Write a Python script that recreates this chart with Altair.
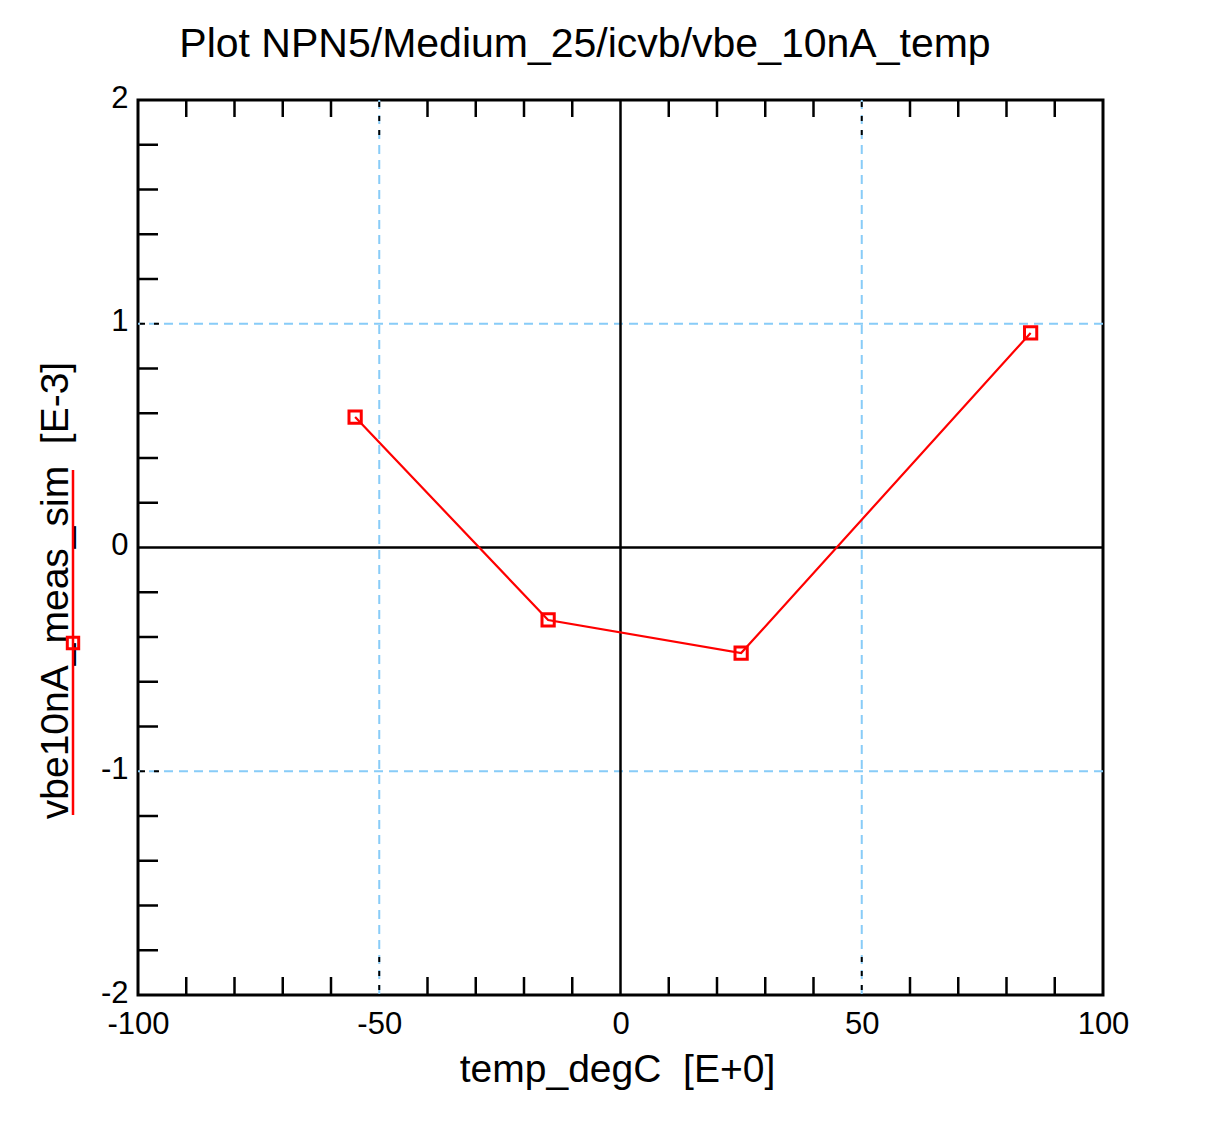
import altair as alt
import pandas as pd

# ---- data ----
temp_degC = [-55, -15, 25, 85]
vbe10nA_meas_sim = [0.583, -0.324, -0.472, 0.959]   # [E-3]

x_labels = [-100, -50, 0, 50, 100]
y_labels = [-2, -1, 0, 1, 2]
x_minor = [-90, -80, -70, -60, -40, -30, -20, -10, 10, 20, 30, 40, 60, 70, 80, 90]
x_major = [-50, 50]
y_minor = [-1.8, -1.6, -1.4, -1.2, -0.8, -0.6, -0.4, -0.2,
           0.2, 0.4, 0.6, 0.8, 1.2, 1.4, 1.6, 1.8]
y_major = [-1, 1]
zero = [0]

title_text = ["Plot NPN5/Medium_25/icvb/vbe_10nA_temp"]
x_title = "temp_degC\u00a0 [E+0]"
y_title = "vbe10nA_meas_sim\u00a0 [E-3]"
series_name = ["vbe10nA_meas_sim"]

FONT = "Liberation Sans"
RED = "#ff0000"
BLUE = "#88ccf8"
W, H = 965, 895

xs = alt.Scale(domain=[-100, 100], nice=False, zero=False)
ys = alt.Scale(domain=[-2, 2], nice=False, zero=False)

df = pd.DataFrame({"temp": temp_degC, "vbe": vbe10nA_meas_sim})
d_xminor = pd.DataFrame({"v": x_minor})
d_xmajor = pd.DataFrame({"v": x_major})
d_yminor = pd.DataFrame({"v": y_minor})
d_ymajor = pd.DataFrame({"v": y_major})
d_zero = pd.DataFrame({"v": zero})
d_series = pd.DataFrame({"name": series_name})
d_title = pd.DataFrame({"t": title_text})

x_axis = alt.Axis(values=x_labels, labelExpr="'' + datum.value", ticks=False,
                  domain=False, grid=False, labelFont=FONT, labelFontSize=31,
                  labelColor="black", labelPadding=14, labelFlush=False,
                  title=x_title, titleFont=FONT, titleFontSize=39,
                  titleFontWeight="normal", titleColor="black",
                  titleX=479, titleY=86, titleBaseline="alphabetic",
                  titleAlign="center", titleAnchor="middle")
y_axis = alt.Axis(values=y_labels, labelExpr="'' + datum.value", ticks=False,
                  domain=False, grid=False, labelFont=FONT, labelFontSize=31,
                  labelColor="black", labelPadding=10, labelFlush=False,
                  labelOffset=-2, labelBaseline="middle",
                  title=y_title, titleFont=FONT, titleFontSize=39,
                  titleFontWeight="normal", titleColor="black",
                  titleX=-71, titleY=490, titleAngle=-90,
                  titleBaseline="alphabetic", titleAlign="center",
                  titleAnchor="middle")

# blue dashed grid
vgrid = alt.Chart(d_xmajor).mark_rule(color=BLUE, strokeWidth=2, strokeDash=[9, 6]).encode(
    x=alt.X("v:Q", scale=xs, axis=x_axis))
hgrid = alt.Chart(d_ymajor).mark_rule(color=BLUE, strokeWidth=2, strokeDash=[9, 6]).encode(
    y=alt.Y("v:Q", scale=ys, axis=y_axis))

# zero lines
vzero = alt.Chart(d_zero).mark_rule(color="black", strokeWidth=2.5).encode(
    x=alt.X("v:Q", scale=xs))
hzero = alt.Chart(d_zero).mark_rule(color="black", strokeWidth=2.5).encode(
    y=alt.Y("v:Q", scale=ys))

# inward ticks
tb = alt.Chart(d_xminor).mark_rule(color="black", strokeWidth=2.5).encode(
    x=alt.X("v:Q", scale=xs), y=alt.value(H - 18), y2=alt.value(H))
tt = alt.Chart(d_xminor).mark_rule(color="black", strokeWidth=2.5).encode(
    x=alt.X("v:Q", scale=xs), y=alt.value(0), y2=alt.value(17))
tl = alt.Chart(d_yminor).mark_rule(color="black", strokeWidth=2.5).encode(
    y=alt.Y("v:Q", scale=ys), x=alt.value(0), x2=alt.value(20))
mb = alt.Chart(d_xmajor).mark_rule(color="black", strokeWidth=2, strokeDash=[5, 9],
                                   strokeDashOffset=-2).encode(
    x=alt.X("v:Q", scale=xs), y=alt.value(H - 40), y2=alt.value(H))
mt = alt.Chart(d_xmajor).mark_rule(color="black", strokeWidth=2, strokeDash=[5, 9],
                                   strokeDashOffset=-2).encode(
    x=alt.X("v:Q", scale=xs), y=alt.value(0), y2=alt.value(42))
ml = alt.Chart(d_ymajor).mark_rule(color="black", strokeWidth=2, strokeDash=[5, 9],
                                   strokeDashOffset=-2).encode(
    y=alt.Y("v:Q", scale=ys), x=alt.value(0), x2=alt.value(30))

# data
line = alt.Chart(df).mark_line(color=RED, strokeWidth=2.2).encode(
    x=alt.X("temp:Q", scale=xs), y=alt.Y("vbe:Q", scale=ys))
pts = alt.Chart(df).mark_point(shape="square", color=RED, filled=False,
                               size=150, strokeWidth=3, opacity=1).encode(
    x=alt.X("temp:Q", scale=xs), y=alt.Y("vbe:Q", scale=ys))

# legend marker along the y title
leg_line = alt.Chart(d_series).mark_rule(color=RED, strokeWidth=2.5).encode(
    x=alt.value(-65), y=alt.value(370), y2=alt.value(715))
leg_pt = alt.Chart(d_series).mark_point(shape="square", color=RED, filled=False,
                                        size=130, strokeWidth=3, opacity=1).encode(
    x=alt.value(-65), y=alt.value(543))

# chart title
title = alt.Chart(d_title).mark_text(font=FONT, fontSize=41, color="black",
                                     align="center", baseline="alphabetic").encode(
    text="t:N", x=alt.value(447), y=alt.value(-43))

chart = alt.layer(
    vgrid, hgrid, vzero, hzero, tb, tt, tl, mb, mt, ml, line, pts, leg_line, leg_pt, title
).properties(
    width=W, height=H,
    autosize=alt.AutoSizeParams(type="none"),
    padding={"left": 130, "top": 92, "right": 99, "bottom": 123},
).configure(background="white").configure_view(stroke="black", strokeWidth=3)

chart.save("out.html", embed_options={"renderer": "svg", "actions": False})
